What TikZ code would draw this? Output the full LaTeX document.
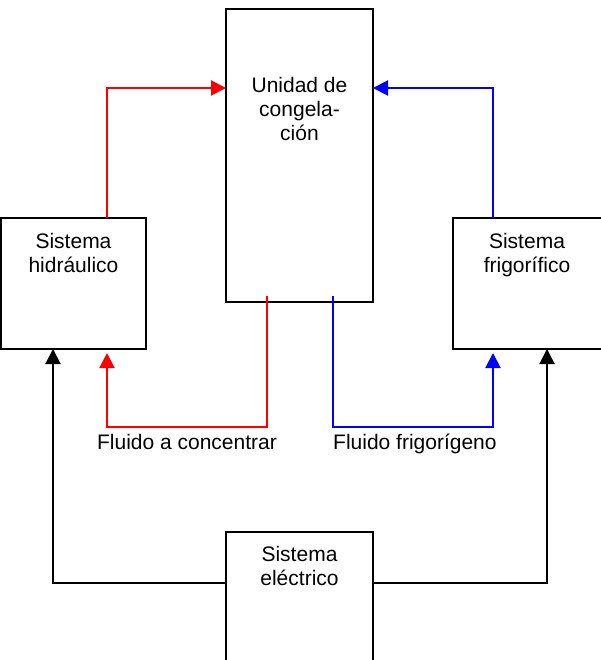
\documentclass[tikz,border=0pt]{standalone}
\usepackage{fontspec}
\setmainfont{Liberation Sans}
\usetikzlibrary{arrows.meta}
\begin{document}
\begin{tikzpicture}[x=1pt,y=-1pt,
  box/.style={draw=black,line width=2pt,rectangle,inner sep=0pt,outer sep=0pt,anchor=north west},
  txt/.style={font=\fontsize{21}{24}\selectfont,align=center,inner sep=0pt},
  flow/.style={line width=2pt,-{Triangle[width=15pt,length=15pt]}}]
\useasboundingbox (0,0) rectangle (600,660);
% blocks
\node[box,minimum width=147pt,minimum height=293pt] (uc) at (226,9) {};
\node[box,minimum width=145pt,minimum height=131pt] (hid) at (1,218) {};
\node[box,minimum width=170pt,minimum height=131pt] (frig) at (453,218) {};
\node[box,minimum width=147pt,minimum height=150pt] (elec) at (226,532) {};
% block titles
\node[txt,anchor=north] (tuc) at (299.5,77.5) {Unidad de\\congela-\\ción};
\node[txt,anchor=north] (thid) at (73.5,233.5) {Sistema\\hidráulico};
\node[txt,anchor=north] (tfrig) at (527,233.5) {Sistema\\frigorífico};
\node[txt,anchor=north] (telec) at (299.5,546.5) {Sistema\\eléctrico};
% fluid labels
\node[txt,anchor=base] (lconc) at (187,449) {Fluido a concentrar};
\node[txt,anchor=base west] (lfrig) at (333,449) {Fluido frigorígeno};
% feed lines into the freezing unit
\draw[flow,red] ([xshift=106pt]hid.north west) |- ([yshift=-79pt]uc.north west);
\draw[flow,blue] ([xshift=40pt]frig.north west) |- ([yshift=-79pt]uc.north east);
% return lines
\draw[flow,red] ([xshift=41pt,yshift=6pt]uc.south west) -- ++(0,131) -| ([xshift=106pt,yshift=-4pt]hid.south west);
\draw[flow,blue] ([xshift=107pt,yshift=6pt]uc.south west) -- ++(0,131) -| ([xshift=40pt,yshift=-4pt]frig.south west);
% electric supply
\draw[flow,black] ([yshift=-51pt]elec.north west) -| ([xshift=52pt]hid.south west);
\draw[flow,black] ([yshift=-51pt]elec.north east) -| ([xshift=94pt]frig.south west);
\end{tikzpicture}
\end{document}
